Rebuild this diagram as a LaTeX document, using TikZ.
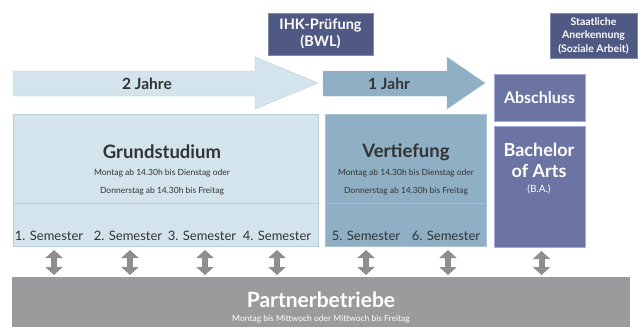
\documentclass[tikz,border=0pt]{standalone}
\usepackage{fontspec}
\setmainfont{Lato}
\usetikzlibrary{arrows.meta, positioning}

\definecolor{hellblau}{HTML}{D3E4EC}
\definecolor{hellrand}{HTML}{B8D0DC}
\definecolor{mittelblau}{HTML}{8FAFC5}
\definecolor{mittelrand}{HTML}{A9C4D6}
\definecolor{lila}{HTML}{6B74A2}
\definecolor{lilarand}{HTML}{A3ACDA}
\definecolor{dunkel}{HTML}{4F5983}
\definecolor{grau}{HTML}{999B9C}
\definecolor{pfeilgrau}{HTML}{8E8E8E}
\definecolor{schrift}{HTML}{333333}

\begin{document}
\begin{tikzpicture}[x=1pt,y=-1pt,
	kasten/.style={anchor=north west, inner sep=0pt, outer sep=0pt, line width=0.8pt},
	titel/.style={font=\bfseries\fontsize{18.5}{20}\selectfont, text=schrift},
	zeit/.style={font=\fontsize{8.5}{10}\selectfont, text=schrift},
	semester/.style={font=\fontsize{13}{15}\selectfont, text=schrift},
	weiss/.style={text=white, font=\bfseries, align=center},
	wechsel/.style={draw=pfeilgrau, line width=6pt, {Triangle[width=17pt,length=8pt]}-{Triangle[width=17pt,length=8pt]}, shorten <=4pt, shorten >=2pt}]
		\fill[white] (0,0) rectangle (638,327);
		
		% Zeitpfeile
		\filldraw[fill=hellblau, draw=hellrand] (13,71) -- (255,71) -- (255,57) -- (318,83) -- (255,109) -- (255,96) -- (13,96) -- cycle;
		\node[font=\bfseries\fontsize{15.5}{17}\selectfont, text=schrift] (zwei) at (147,84) {2 Jahre};
		\filldraw[fill=mittelblau, draw=mittelrand] (323,71) -- (447,71) -- (447,57) -- (485,83) -- (447,109) -- (447,96) -- (323,96) -- cycle;
		\node[font=\bfseries\fontsize{15.5}{17}\selectfont, text=schrift] (eins) at (389,84) {1 Jahr};
		
		% Pruefungen
		\node[kasten, fill=dunkel, draw=dunkel!70!white, minimum width=105pt, minimum height=42pt] (ihk) at (268,13) {};
		\node[weiss, font=\bfseries\fontsize{14.5}{17}\selectfont] at (ihk.center) {IHK-Prüfung\\(BWL)};
		\node[kasten, fill=dunkel, draw=dunkel!70!white, minimum width=87pt, minimum height=45pt] (staat) at (550,13) {};
		\node[weiss, font=\bfseries\fontsize{10.5}{13.5}\selectfont] at (staat.center) {Staatliche\\Anerkennung\\(Soziale Arbeit)};
		
		% Studium
		\node[kasten, fill=hellblau, draw=hellrand, minimum width=305pt, minimum height=132pt] (grund) at (13,114) {};
		\draw[hellrand, line width=0.8pt] (13,203) -- (318,203);
		\node[titel] (gtitel) at (162,152) {Grundstudium};
		\node[zeit] at (162,173) {Montag ab 14.30h bis Dienstag oder};
		\node[zeit] at (162,191) {Donnerstag ab 14.30h bis Freitag};
		
		\node[kasten, fill=mittelblau, draw=mittelrand, minimum width=161pt, minimum height=132pt] (vert) at (325,114) {};
		\draw[mittelrand!80!mittelblau, line width=0.8pt] (325,203) -- (486,203);
		\node[titel] (vtitel) at (406,152) {Vertiefung};
		\node[zeit] at (406,173) {Montag ab 14.30h bis Dienstag oder};
		\node[zeit] at (406,191) {Donnerstag ab 14.30h bis Freitag};
		
		\node[semester] (sem1) at (49,236) {1. Semester};
		\node[semester] (sem2) at (128,236) {2. Semester};
		\node[semester] (sem3) at (202,236) {3. Semester};
		\node[semester] (sem4) at (277,236) {4. Semester};
		\node[semester] (sem5) at (366,236) {5. Semester};
		\node[semester] (sem6) at (446,236) {6. Semester};
		
		% Abschluss
		\node[kasten, fill=lila, draw=lilarand, minimum width=91pt, minimum height=47pt] (abschluss) at (494,74) {};
		\node[weiss, font=\bfseries\fontsize{16}{18}\selectfont] at (abschluss.center) {Abschluss};
		\node[kasten, fill=lila, draw=lilarand, minimum width=91pt, minimum height=121pt] (ba) at (494,126) {};
		\node[weiss, font=\bfseries\fontsize{18}{21}\selectfont] (batitel) at (539,160) {Bachelor\\of Arts};
		\node[text=white, font=\fontsize{10}{12}\selectfont] at (539,189) {(B.A.)};
		
		% Partnerbetriebe
		\node[kasten, fill=grau, minimum width=618pt, minimum height=50pt] (partner) at (12,277) {};
		\node[text=white, font=\bfseries\fontsize{21}{23}\selectfont] (ptitel) at (321,300) {Partnerbetriebe};
		\node[text=white, font=\fontsize{8.5}{10}\selectfont] at (321,319) {Montag bis Mittwoch oder Mittwoch bis Freitag};
		
		\draw[wechsel] ([xshift=5pt]sem1.south |- grund.south) -- ([xshift=5pt]sem1.south |- partner.north);
		\draw[wechsel] ([xshift=2pt]sem2.south |- grund.south) -- ([xshift=2pt]sem2.south |- partner.north);
		\draw[wechsel] ([xshift=3pt]sem3.south |- grund.south) -- ([xshift=3pt]sem3.south |- partner.north);
		\draw[wechsel] (sem4.south |- grund.south) -- (sem4.south |- partner.north);
		\draw[wechsel] (sem5.south |- vert.south) -- (sem5.south |- partner.north);
		\draw[wechsel] ([xshift=2pt]sem6.south |- vert.south) -- ([xshift=2pt]sem6.south |- partner.north);
		\draw[wechsel] ([xshift=2pt]ba.south) -- ([xshift=2pt]ba.south |- partner.north);
	\end{tikzpicture}
\end{document}
